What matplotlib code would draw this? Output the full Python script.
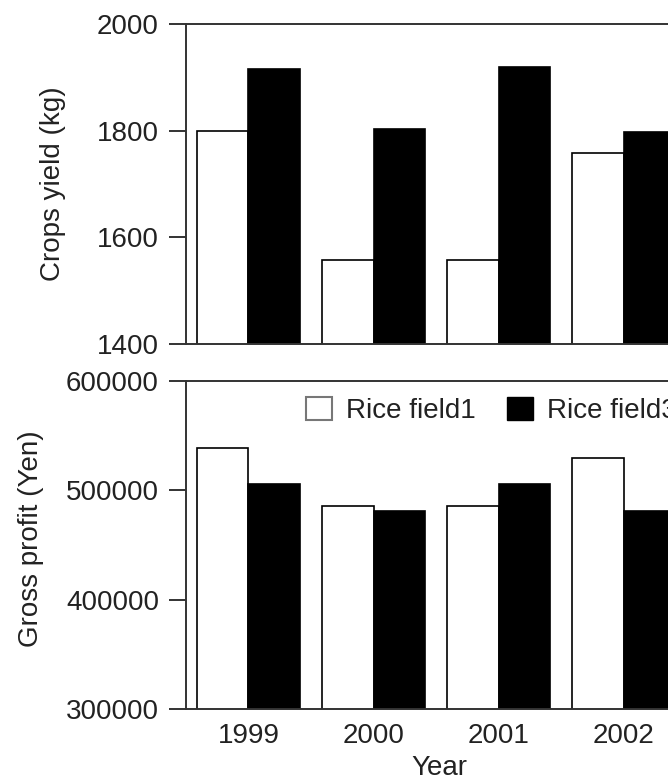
import matplotlib
matplotlib.use("Agg")
import numpy as np
from matplotlib import pyplot as plt
from matplotlib.patches import Patch

years = ["1999", "2000", "2001", "2002"]
yield_field1 = [1800, 1558, 1558, 1758]
yield_field3 = [1915, 1803, 1919, 1798]
profit_field1 = [539000, 485500, 485500, 530000]
profit_field3 = [506000, 481000, 506000, 481000]

plt.rcParams['font.family'] = ['Liberation Sans', 'DejaVu Sans']
plt.rcParams['font.size'] = 20
txt = '#222222'

fig = plt.figure(figsize=(6.68, 7.80), dpi=100)
# axes run past the right edge of the picture, as in the reference
ax1 = fig.add_axes([186/668, 1 - 344/780, 500/668, 320/780])
ax2 = fig.add_axes([186/668, 1 - 709/780, 500/668, 328/780])

x = np.arange(len(years))
w = 0.41

def draw(ax, a, b, lo, hi, step):
    ax.bar(x - w, a, w, align='edge', color='white', edgecolor='black', linewidth=1.2)
    ax.bar(x, b, w, align='edge', color='black', edgecolor='black', linewidth=1.2)
    ax.set_xlim(-0.5, 3.5)
    ax.set_ylim(lo, hi)
    ax.set_yticks(np.arange(lo, hi + 1, step))
    for s in ax.spines.values():
        s.set_linewidth(1.4)
        s.set_color('#333333')
    ax.tick_params(axis='y', direction='out', length=12.5, width=1.4, color='#333333',
                   pad=7, labelcolor=txt)
    ax.tick_params(axis='x', length=0, labelcolor=txt, pad=10)

draw(ax1, yield_field1, yield_field3, 1400, 2000, 200)
draw(ax2, profit_field1, profit_field3, 300000, 600000, 100000)

ax1.set_xticks(x)
ax1.set_xticklabels([])
ax2.set_xticks(x)
ax2.set_xticklabels(years)

ax1.set_ylabel("Crops yield (kg)", color=txt, va='center')
ax1.yaxis.set_label_coords(-0.266, 0.5)
ax2.set_ylabel("Gross profit (Yen)", color=txt, va='center')
ax2.yaxis.set_label_coords(-0.31, 0.52)
ax2.set_xlabel("Year", color=txt, va='center')
ax2.xaxis.set_label_coords(0.506, -0.18)

handles = [Patch(facecolor='white', edgecolor='#777777', linewidth=1.5, label='Rice field1'),
           Patch(facecolor='black', edgecolor='black', label='Rice field3')]
ax2.legend(handles=handles, loc='upper left', bbox_to_anchor=(0.24, 0.952), ncol=2,
           frameon=False, borderpad=0, borderaxespad=0, handlelength=0.95, handleheight=0.9,
           handletextpad=0.5, columnspacing=1.1, labelcolor=txt)

fig.savefig("out.png", dpi=100)
